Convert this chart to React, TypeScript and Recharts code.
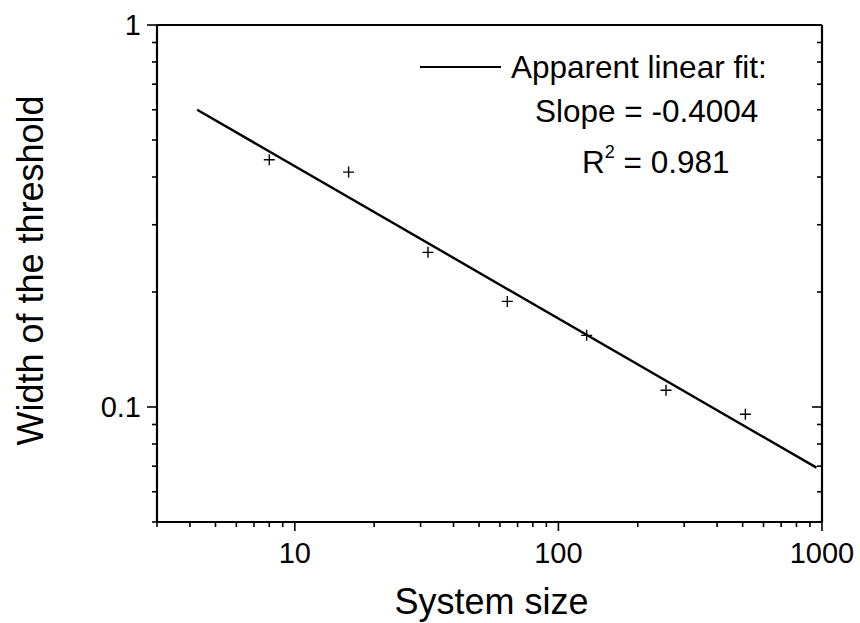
import { ScatterChart, Scatter, XAxis, YAxis, Label, Legend } from 'recharts';

// measured points (system size vs threshold width)
const systemSizes = [8, 16, 32, 64, 128, 256, 512];
const thresholdWidths = [0.444, 0.412, 0.254, 0.189, 0.154, 0.1106, 0.0957];

// ends of the apparent linear fit
const fitSizes = [4.26, 953];
const fitWidths = [0.6, 0.0694];

const xTicks = [3, 4, 5, 6, 7, 8, 9, 10, 20, 30, 40, 50, 60, 70, 80, 90, 100, 200, 300, 400, 500, 600, 700, 800, 900, 1000];
const xMajor = [10, 100, 1000];
const yTicks = [0.05, 0.06, 0.07, 0.08, 0.09, 0.1, 0.2, 0.3, 0.4, 0.5, 0.6, 0.7, 0.8, 0.9, 1];
const yMajor = [0.1, 1];

const fitLabel = 'Apparent linear fit:';
const slopeLabel = 'Slope = -0.4004';
const r2Value = '0.981';

const FONT = '"Liberation Sans", Arial, sans-serif';

const points = systemSizes.map((x, i) => ({ x, y: thresholdWidths[i] }));
const fit = fitSizes.map((x, i) => ({ x, y: fitWidths[i] }));

const BottomTick = ({ x, y, payload }: any) => {
  const major = xMajor.includes(payload.value);
  return (
    <g>
      <line x1={x} x2={x} y1={y} y2={y + (major ? 9 : 5)} stroke="#000" strokeWidth={1.6} />
      {major && (
        <text x={x} y={y + 41} textAnchor="middle" fontSize={29} fill="#000" fontFamily={FONT}>
          {payload.value}
        </text>
      )}
    </g>
  );
};

const TopTick = ({ x, y, payload }: any) => {
  const major = xMajor.includes(payload.value);
  return <line x1={x} x2={x} y1={y} y2={y + (major ? 9 : 5)} stroke="#000" strokeWidth={1.6} />;
};

const LeftTick = ({ x, y, payload }: any) => {
  const major = yMajor.includes(payload.value);
  return (
    <g>
      <line x1={x} x2={x - (major ? 10 : 5)} y1={y} y2={y} stroke="#000" strokeWidth={1.6} />
      {major && (
        <text x={x - 16} y={y + 10} textAnchor="end" fontSize={29} fill="#000" fontFamily={FONT}>
          {payload.value}
        </text>
      )}
    </g>
  );
};

const RightTick = ({ x, y, payload }: any) => {
  const major = yMajor.includes(payload.value);
  return <line x1={x} x2={x - (major ? 10 : 5)} y1={y} y2={y} stroke="#000" strokeWidth={1.6} />;
};

const Cross = ({ cx, cy }: any) => (
  <path d={`M${cx - 5.5},${cy}h11M${cx},${cy - 5.5}v11`} stroke="#000" strokeWidth={1.4} fill="none" />
);

const FitLegend = () => (
  <svg width={400} height={150} style={{ fontFamily: FONT, display: 'block' }}>
    <line x1={20} x2={101} y1={27} y2={27} stroke="#000" strokeWidth={2.2} />
    <text x={111} y={38} fontSize={31.5} fill="#000">{fitLabel}</text>
    <text x={135} y={82} fontSize={31.5} fill="#000">{slopeLabel}</text>
    <text x={182} y={133} fontSize={31.5} fill="#000">
      R<tspan fontSize={18} dy={-15}>2</tspan>
      <tspan dy={15}>{` = ${r2Value}`}</tspan>
    </text>
  </svg>
);

export default function App() {
  return (
    <div style={{ position: 'absolute', left: 0, top: 0, width: 860, height: 623, background: '#fff' }}>
      <ScatterChart
        width={860}
        height={623}
        margin={{ top: 0, right: 0, bottom: 0, left: 0 }}
        style={{ fontFamily: FONT }}
      >
        <XAxis
          xAxisId="bottom"
          dataKey="x"
          type="number"
          scale="log"
          domain={[3, 1000]}
          allowDataOverflow
          ticks={xTicks}
          interval={0}
          height={101}
          tickSize={0}
          tickMargin={0}
          tickLine={false}
          axisLine={{ stroke: '#000', strokeWidth: 2.2 }}
          tick={<BottomTick />}
        >
          <Label
            content={({ viewBox }: any) => (
              <text
                x={viewBox.x + viewBox.width / 2 + 2}
                y={viewBox.y + 92}
                textAnchor="middle"
                fontSize={36}
                fill="#000"
                fontFamily={FONT}
              >
                System size
              </text>
            )}
          />
        </XAxis>
        <XAxis
          xAxisId="top"
          orientation="top"
          type="number"
          scale="log"
          domain={[3, 1000]}
          allowDataOverflow
          ticks={xTicks}
          interval={0}
          height={25}
          tickSize={0}
          tickMargin={0}
          tickLine={false}
          axisLine={{ stroke: '#000', strokeWidth: 2.2 }}
          tick={<TopTick />}
        />
        <YAxis
          yAxisId="left"
          dataKey="y"
          type="number"
          scale="log"
          domain={[0.05, 1]}
          allowDataOverflow
          ticks={yTicks}
          interval={0}
          width={157}
          tickSize={0}
          tickMargin={0}
          tickLine={false}
          axisLine={{ stroke: '#000', strokeWidth: 2.2 }}
          tick={<LeftTick />}
        >
          <Label
            content={({ viewBox }: any) => {
              const cx = viewBox.x + 43;
              const cy = viewBox.y + viewBox.height / 2 - 3;
              return (
                <text
                  x={cx}
                  y={cy}
                  transform={`rotate(-90, ${cx}, ${cy})`}
                  textAnchor="middle"
                  fontSize={36}
                  fill="#000"
                  fontFamily={FONT}
                >
                  Width of the threshold
                </text>
              );
            }}
          />
        </YAxis>
        <YAxis
          yAxisId="right"
          orientation="right"
          type="number"
          scale="log"
          domain={[0.05, 1]}
          allowDataOverflow
          ticks={yTicks}
          interval={0}
          width={38}
          tickSize={0}
          tickMargin={0}
          tickLine={false}
          axisLine={{ stroke: '#000', strokeWidth: 2.2 }}
          tick={<RightTick />}
        />
        <Legend
          layout="vertical"
          align="center"
          verticalAlign="middle"
          wrapperStyle={{ left: 400, top: 40, width: 400, height: 150 }}
          content={() => <FitLegend />}
        />
        <Scatter
          xAxisId="bottom"
          yAxisId="left"
          data={fit}
          line={{ stroke: '#000', strokeWidth: 2.4 }}
          lineType="joint"
          shape={() => <g />}
          isAnimationActive={false}
        />
        <Scatter
          xAxisId="bottom"
          yAxisId="left"
          data={points}
          shape={<Cross />}
          isAnimationActive={false}
        />
      </ScatterChart>
    </div>
  );
}
